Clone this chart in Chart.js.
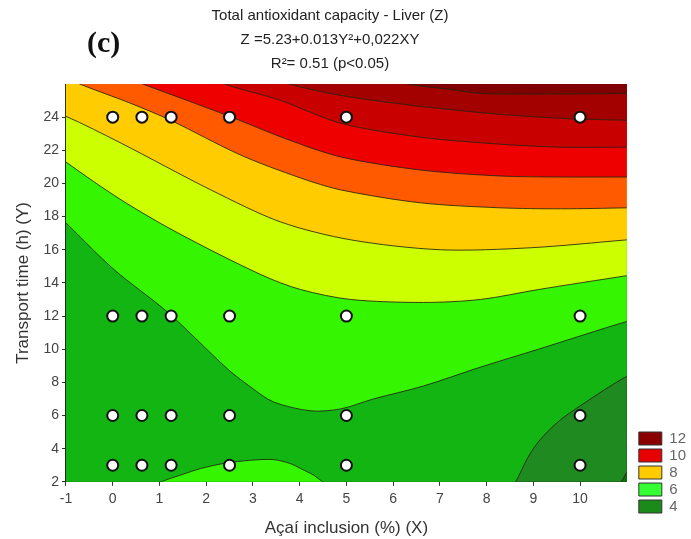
<!DOCTYPE html>
<html>
<head>
<meta charset="utf-8">
<script src="https://cdn.jsdelivr.net/npm/chart.js@4.4.1/dist/chart.umd.min.js"></script>
<style>
  body { margin: 0; background: #fff; }
  #wrap { position: relative; width: 691px; height: 539px; }
  #tag { position: absolute; left: 87px; top: 25px; line-height: 1; font: bold 30px "Liberation Serif", "DejaVu Serif", serif; color: #111; }
  #heading { position: absolute; left: 0; top: 3px; width: 660px; text-align: center; font: 15px "Liberation Sans", Arial, sans-serif; line-height: 24px; color: #222; }
</style>
</head>
<body>
<div id="wrap">
  <canvas id="tacChart" width="691" height="539"></canvas>
  <div id="tag">(c)</div>
  <div id="heading">Total antioxidant capacity - Liver (Z)<br>Z =5.23+0.013Y&sup2;+0,022XY<br>R&sup2;= 0.51 (p&lt;0.05)</div>
</div>
<script>
// design points (X = açaí inclusion %, Y = transport time h)
const xInclusion = [0, 0.625, 1.25, 2.5, 5, 10];
const yTransport = [3, 6, 12, 24];

const xTicks = [-1, 0, 1, 2, 3, 4, 5, 6, 7, 8, 9, 10];
const yTicks = [2, 4, 6, 8, 10, 12, 14, 16, 18, 20, 22, 24];

const legendLevels = ['12', '10', '8', '6', '4'];

// contour lines, [X, Y], left to right
const line13 = [[6.0, 26.3], [6.37, 25.97], [7.23, 25.67], [7.87, 25.43], [9.5, 25.4], [11.01, 25.43], [11.4, 25.45]];
const line12 = [[3.4, 26.4], [3.81, 25.97], [4.88, 25.31], [6.59, 24.65], [8.29, 24.17], [9.58, 23.93], [11.01, 23.81], [11.4, 23.8]];
const line11 = [[2.1, 26.4], [2.42, 25.97], [3.59, 25.01], [4.88, 23.63], [6.59, 22.79], [8.29, 22.37], [9.58, 22.19], [11.01, 22.19], [11.4, 22.19]];
const line10 = [[0.4, 26.3], [0.67, 25.97], [1.6, 25.0], [2.5, 24.05], [3.7, 22.7], [4.88, 21.6], [6.59, 20.81], [8.29, 20.45], [9.58, 20.39], [11.01, 20.39], [11.4, 20.39]];
const line9 = [[-0.9, 26.3], [-0.68, 25.97], [0.39, 24.83], [1.24, 23.81], [2.74, 21.71], [4.02, 20.33], [4.88, 19.61], [6.59, 18.83], [8.29, 18.53], [9.58, 18.47], [11.01, 18.53], [11.4, 18.56]];
const line8 = [[-1.3, 24.25], [-1.0, 24.05], [0.18, 22.43], [2.1, 19.61], [3.59, 17.68], [5.09, 16.6], [7.01, 16.0], [8.94, 16.12], [11.01, 16.6], [11.4, 16.7]];
const line7 = [[-1.3, 22.0], [-1.0, 21.29], [0.18, 19.01], [1.39, 17.02], [3.17, 14.5], [4.02, 13.6], [5.09, 13.0], [6.65, 12.82], [7.87, 13.0], [9.11, 13.6], [11.01, 14.44], [11.4, 14.6]];
const line6 = [[-1.3, 18.45], [-1.0, 17.62], [0.03, 14.8], [1.18, 12.22], [2.46, 8.8], [2.95, 7.72], [3.44, 6.82], [4.24, 6.28], [4.88, 6.4], [5.58, 7.0], [6.65, 7.78], [7.87, 8.92], [9.11, 10.0], [11.01, 11.68], [11.4, 11.9]];
const bump6 = [[0.9, 1.8], [1.03, 2.0], [1.5, 2.45], [1.88, 2.8], [2.4, 3.12], [2.95, 3.3], [3.44, 3.34], [3.8, 3.1], [4.02, 2.8], [4.3, 2.4], [4.49, 2.0], [4.6, 1.8]];
const line5 = [[8.45, 1.5], [8.62, 2.0], [8.87, 3.4], [9.11, 4.42], [9.53, 5.62], [10.0, 6.58], [11.01, 8.38], [11.4, 8.7]];
const line4 = [[10.75, 1.7], [10.88, 2.0], [11.01, 2.62], [11.2, 3.2]];

const colors = {
  c13: '#800000', c12: '#a30000', c11: '#c90000', c10: '#ee0000', c9: '#ff5a00',
  c8: '#ffcc00', c7: '#ccff00', c6: '#35f500', c5: '#12b512', c4: '#1f8a1f', c3: '#0d6a0d'
};
const legendColors = ['#8a0000', '#e80000', '#ffcc00', '#33ff33', '#1a8a1a'];

const TOP = 27, BOTTOM = 1;

function toPts(arr) {
  return arr.map(p => ({ x: p[0], y: p[1] }));
}
function closeAbove(line) {
  const a = line[0], b = line[line.length - 1];
  return line.concat([[b[0], TOP], [a[0], TOP]]);
}
function closeBelow(line) {
  const a = line[0], b = line[line.length - 1];
  return line.concat([[b[0], BOTTOM], [a[0], BOTTOM]]);
}

function band(poly, color, edge) {
  return {
    data: toPts(poly),
    showLine: true,
    fill: 'shape',
    backgroundColor: color,
    borderColor: edge === false ? color : 'rgba(35,35,20,0.85)',
    borderWidth: edge === false ? 0 : 1,
    pointRadius: 0,
    tension: 0.3,
    capBezierPoints: false
  };
}

const design = [];
yTransport.forEach(y => xInclusion.forEach(x => design.push({ x: x, y: y })));

const datasets = [
  {
    data: design,
    pointRadius: 5.5,
    pointBackgroundColor: '#ffffff',
    pointBorderColor: '#111111',
    pointBorderWidth: 2
  },
  band(closeAbove(line13), colors.c13),
  band(closeAbove(line12), colors.c12),
  band(closeAbove(line11), colors.c11),
  band(closeAbove(line10), colors.c10),
  band(closeAbove(line9), colors.c9),
  band(closeAbove(line8), colors.c8),
  band(closeAbove(line7), colors.c7),
  band(closeBelow(bump6), colors.c6),
  band(closeAbove(line6), colors.c6),
  band(line5.concat([[11.4, TOP], [-2, TOP], [-2, BOTTOM], [8.45, BOTTOM]]), colors.c5),
  band(closeBelow(line4), colors.c3),
  band([[-2, BOTTOM], [12, BOTTOM], [12, TOP], [-2, TOP]], colors.c4, false)
];

const tickFont = { family: 'Liberation Sans, Arial, sans-serif', size: 14 };
const titleFont = { family: 'Liberation Sans, Arial, sans-serif', size: 17 };

new Chart(document.getElementById('tacChart'), {
  type: 'scatter',
  data: { datasets: datasets },
  options: {
    responsive: false,
    animation: false,
    events: [],
    layout: { padding: { left: 13, right: -5, top: 84, bottom: 0 } },
    plugins: {
      tooltip: { enabled: false },
      title: { display: false },
      legend: {
        position: 'right',
        align: 'start',
        onClick: null,
        title: {
          display: true,
          text: ' ',
          font: { size: 1 },
          padding: { top: 343.8, bottom: 0 }
        },
        labels: {
          boxWidth: 23,
          boxHeight: 13,
          padding: 2,
          color: '#333',
          font: { family: 'Liberation Sans, Arial, sans-serif', size: 15 },
          generateLabels: () => legendLevels.map((t, i) => ({
            text: t,
            fillStyle: legendColors[i],
            strokeStyle: '#333',
            lineWidth: 1,
            hidden: false,
            datasetIndex: 0
          }))
        }
      }
    },
    scales: {
      x: {
        type: 'linear',
        min: -1,
        max: 11,
        afterBuildTicks: axis => { axis.ticks = xTicks.map(v => ({ value: v })); },
        ticks: { color: '#444', font: tickFont, padding: 5, maxRotation: 0 },
        grid: { drawOnChartArea: false, tickLength: 4, color: '#333' },
        border: { color: '#222' },
        title: { display: true, text: 'A\u00e7a\u00ed inclusion (%) (X)', color: '#333', font: titleFont, padding: { top: 6, bottom: 0 } }
      },
      y: {
        type: 'linear',
        min: 2,
        max: 26,
        afterBuildTicks: axis => { axis.ticks = yTicks.map(v => ({ value: v })); },
        ticks: { color: '#444', font: tickFont, padding: 3 },
        grid: { drawOnChartArea: false, tickLength: 4, color: '#333' },
        border: { color: '#222' },
        title: { display: true, text: 'Transport time (h) (Y)', color: '#333', font: titleFont, padding: { top: 0, bottom: 7 } }
      },
      x2: {
        type: 'linear',
        position: 'top',
        min: -1,
        max: 11,
        ticks: { display: false },
        grid: { drawOnChartArea: false, drawTicks: false },
        border: { color: '#222' },
        afterFit: axis => { axis.height = 0; }
      },
      y2: {
        type: 'linear',
        position: 'right',
        min: 2,
        max: 26,
        ticks: { display: false },
        grid: { drawOnChartArea: false, drawTicks: false },
        border: { color: '#222' },
        afterFit: axis => { axis.width = 10; }
      }
    }
  }
});
</script>
</body>
</html>
